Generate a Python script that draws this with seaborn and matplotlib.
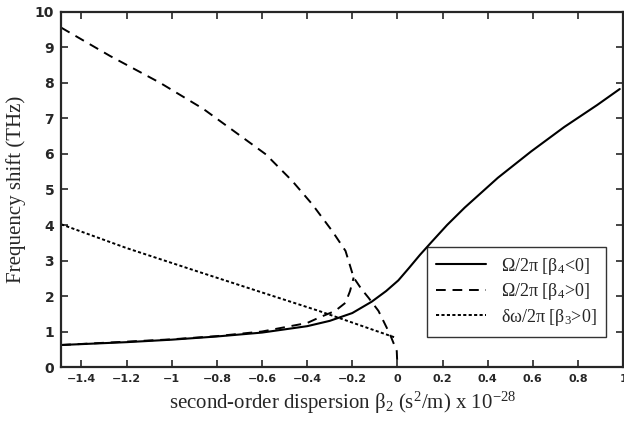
import matplotlib
matplotlib.use('Agg')
import matplotlib.pyplot as plt
import seaborn as sns

# Curva sólida: Omega/2pi com beta4 < 0
beta2_neg4 = [-1.49, -1.2, -1.0, -0.8, -0.6, -0.4, -0.3, -0.2, -0.114, -0.05, 0.004,
              0.05, 0.1, 0.151, 0.22, 0.298, 0.445, 0.592, 0.739, 0.885, 0.985]
omega_neg4 = [0.62, 0.70, 0.77, 0.86, 0.97, 1.15, 1.30, 1.52, 1.84, 2.14, 2.44,
              2.78, 3.16, 3.52, 4.0, 4.49, 5.33, 6.07, 6.76, 7.38, 7.83]

# Curva tracejada: Omega/2pi com beta4 > 0 (ramo superior e ramo inferior)
beta2_pos4_up = [-1.49, -1.273, -1.053, -0.86, -0.73, -0.583, -0.466, -0.377,
                 -0.289, -0.23, -0.194, -0.16, -0.128, -0.084, -0.033, -0.003, 0.0]
omega_pos4_up = [9.56, 8.76, 8.01, 7.27, 6.67, 5.99, 5.24, 4.58,
                 3.83, 3.27, 2.52, 2.2, 1.95, 1.58, 0.92, 0.45, 0.0]
beta2_pos4_low = [-1.49, -1.0, -0.8, -0.6, -0.4, -0.348, -0.276, -0.23, -0.21, -0.194]
omega_pos4_low = [0.62, 0.78, 0.87, 1.0, 1.24, 1.39, 1.58, 1.81, 2.14, 2.52]

# Curva pontilhada: delta omega/2pi com beta3 > 0
beta2_pos3 = [-1.49, -1.2, -0.88, -0.6, -0.348, -0.01]
domega_pos3 = [4.02, 3.35, 2.68, 2.1, 1.58, 0.83]

xticks = [-1.4, -1.2, -1.0, -0.8, -0.6, -0.4, -0.2, 0.0, 0.2, 0.4, 0.6, 0.8, 1.0]
xticklabels = ['\u22121.4', '\u22121.2', '\u22121', '\u22120.8', '\u22120.6', '\u22120.4',
               '\u22120.2', '0', '0.2', '0.4', '0.6', '0.8', '1']
yticks = list(range(0, 11))

sns.set_style('ticks')
plt.rcParams['font.family'] = ['Liberation Serif', 'DejaVu Serif']
plt.rcParams['mathtext.fontset'] = 'custom'
plt.rcParams['mathtext.rm'] = 'Liberation Serif'
plt.rcParams['mathtext.it'] = 'Liberation Serif'

fig = plt.figure(figsize=(6.24, 4.22), dpi=100)
ax = fig.add_axes([0.098, 0.1303, 0.9006, 0.8413])

sns.lineplot(x=beta2_neg4, y=omega_neg4, ax=ax, color='black', lw=1.5,
             sort=False, estimator=None, label='\u03a9/2\u03c0 [\u03b2$_4$<0]')
sns.lineplot(x=beta2_pos4_up, y=omega_pos4_up, ax=ax, color='black', lw=1.4,
             sort=False, estimator=None, label='\u03a9/2\u03c0 [\u03b2$_4$>0]')
sns.lineplot(x=beta2_pos4_low, y=omega_pos4_low, ax=ax, color='black', lw=1.4,
             sort=False, estimator=None)
sns.lineplot(x=beta2_pos3, y=domega_pos3, ax=ax, color='black', lw=1.4,
             sort=False, estimator=None, label='\u03b4\u03c9/2\u03c0 [\u03b2$_3$>0]')

lines = ax.get_lines()
lines[1].set_dashes([5, 3.5])
lines[2].set_dashes([5, 3.5])
lines[3].set_dashes([1.6, 1.2])

ax.set_xlim(-1.49, 0.985)
ax.set_ylim(0, 10)
ax.set_xticks(xticks)
ax.set_xticklabels(xticklabels, family='DejaVu Sans', fontsize=8, fontweight='bold')
ax.set_yticks(yticks)
ax.set_yticklabels([str(v) for v in yticks], family='DejaVu Sans', fontsize=10,
                   fontweight='bold')
ax.tick_params(direction='in', top=True, right=True, length=5, width=1.2, pad=5)
for s in ax.spines.values():
    s.set_linewidth(1.6)

ax.set_xlabel('second-order dispersion \u03b2$_2$ (s$^2$/m) x 10$^{-28}$', fontsize=15,
              labelpad=4)
ax.set_ylabel('Frequency shift (THz)', fontsize=15, labelpad=6)

leg = ax.legend(loc='lower right', bbox_to_anchor=(0.985, 0.06), fontsize=13,
                handlelength=2.8, frameon=True, fancybox=False, edgecolor='black',
                borderpad=0.5, labelspacing=0.25, handletextpad=0.8)
leg.get_frame().set_linewidth(1.0)

fig.savefig('out.png', dpi=100)
